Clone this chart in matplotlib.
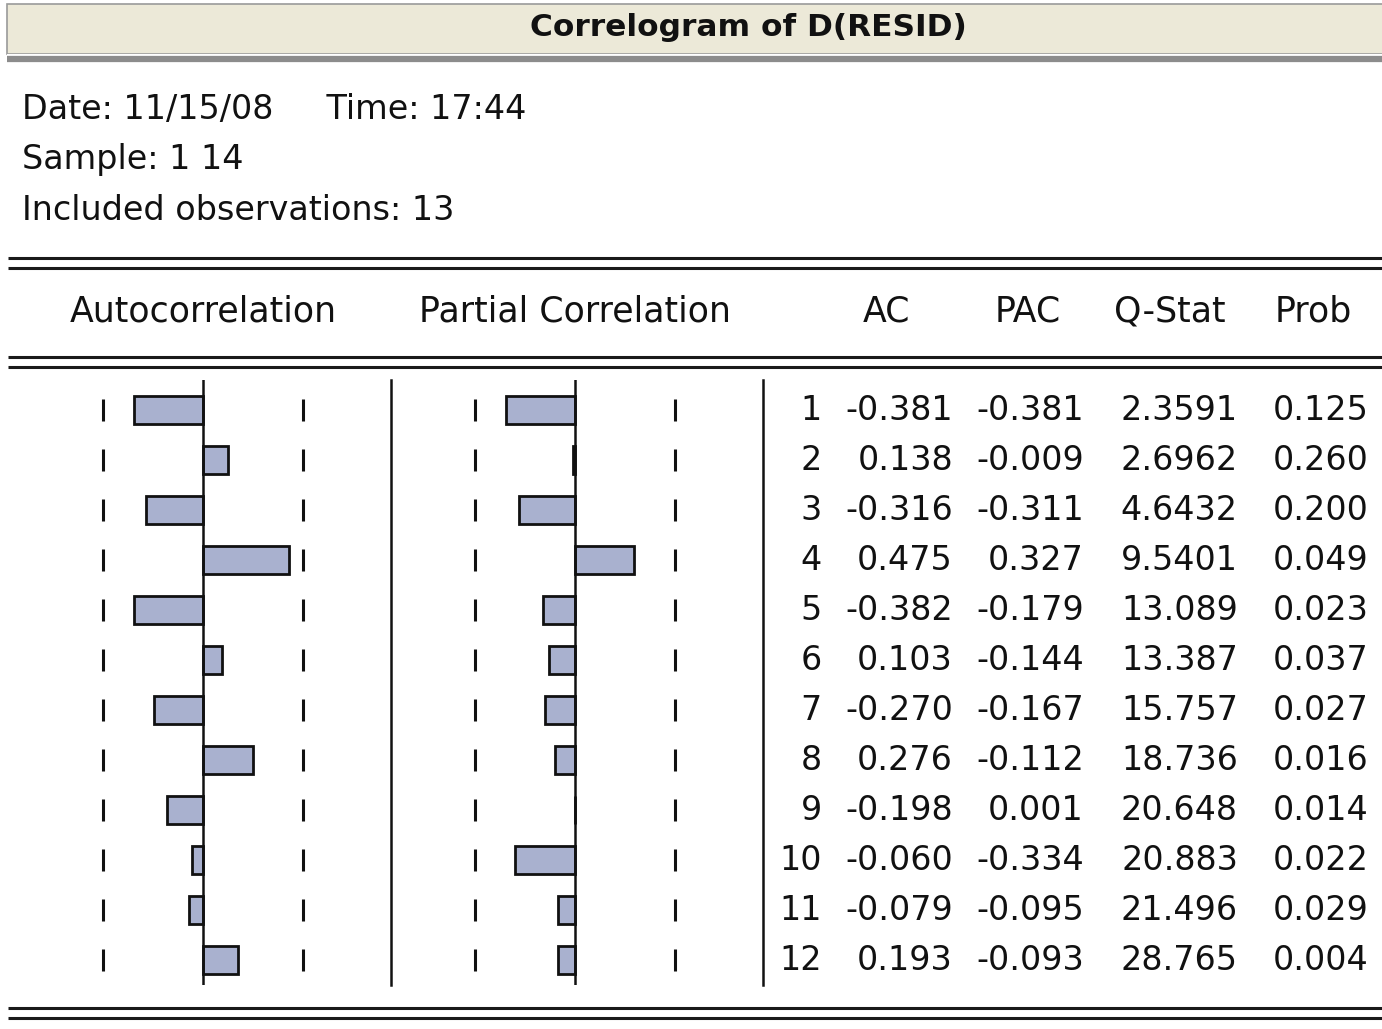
#!/usr/bin/env python
# coding:utf8
"""
EViews 风格的残差差分相关图 (correlogram)
"""
import numpy as np
import matplotlib
matplotlib.use('Agg')
import matplotlib.pyplot as plt
from matplotlib.patches import Rectangle

plt.rcParams['font.family'] = ['DejaVu Sans']

# 数据
n_obs = 13
lags = [1, 2, 3, 4, 5, 6, 7, 8, 9, 10, 11, 12]
ac = [-0.381, 0.138, -0.316, 0.475, -0.382, 0.103, -0.270, 0.276, -0.198, -0.060, -0.079, 0.193]
pac = [-0.381, -0.009, -0.311, 0.327, -0.179, -0.144, -0.167, -0.112, 0.001, -0.334, -0.095, -0.093]
q_stat = [2.3591, 2.6962, 4.6432, 9.5401, 13.089, 13.387, 15.757, 18.736, 20.648, 20.883, 21.496, 28.765]
prob = [0.125, 0.260, 0.200, 0.049, 0.023, 0.037, 0.027, 0.016, 0.014, 0.022, 0.029, 0.004]
q_labels = ['2.3591', '2.6962', '4.6432', '9.5401', '13.089', '13.387',
            '15.757', '18.736', '20.648', '20.883', '21.496', '28.765']

W, H = 1382, 1029
BAR_COLOR = '#A9B1CF'
FS = 24
INK = '#111111'

fig = plt.figure(figsize=(W / 100, H / 100), dpi=100)
fig.patch.set_facecolor('white')

# 整张图的底层坐标(像素)
ax = fig.add_axes([0, 0, 1, 1])
ax.set_xlim(0, W)
ax.set_ylim(H, 0)
ax.axis('off')

# 标题栏
ax.add_patch(Rectangle((7, 4), W, 50, facecolor='#ECE9D8', edgecolor='#9A9A9A', lw=1.2))
ax.plot([7, W], [55, 55], color='white', lw=1.5, solid_capstyle='butt')
ax.plot([7, W], [59, 59], color='#8C8C8C', lw=4.5, solid_capstyle='butt')
ax.text(748, 28, 'Correlogram of D(RESID)', ha='center', va='center',
        fontsize=22.5, fontweight='bold', color=INK)

# 头部信息
info_kw = dict(ha='left', va='center', fontsize=FS, color=INK)
ax.text(22, 110, 'Date: 11/15/08     Time: 17:44', **info_kw)
ax.text(22, 160, 'Sample: 1 14', **info_kw)
ax.text(22, 210, 'Included observations: %d' % n_obs, **info_kw)

# 双线
for y in (258, 268, 357, 367, 1008, 1018):
    ax.plot([8, W], [y, y], color='#1A1A1A', lw=2.2, solid_capstyle='butt')

# 表头
headers = [('Autocorrelation', 203), ('Partial Correlation', 575),
           ('AC', 886), ('PAC', 1028), ('Q-Stat', 1170), ('Prob', 1313)]
for name, x in headers:
    ax.text(x, 311, name, ha='center', va='center', fontsize=FS + 1, color=INK)

# 分隔竖线
for x in (391, 763):
    ax.plot([x, x], [380, 985], color=INK, lw=1.8)


def panel(center_px, values):
    """ 以相关系数为横轴画一个条形面板 """
    scale = 180.0  # 每单位相关系数的像素
    left = (center_px - scale) / W
    bottom = 1 - 985 / H
    a = fig.add_axes([left, bottom, 2 * scale / W, 605 / H])
    a.set_xlim(-1, 1)
    a.set_ylim(12.5, 0.4)
    a.axis('off')
    bound = 2 / np.sqrt(n_obs)
    a.barh(lags, values, height=0.56, color=BAR_COLOR, edgecolor=INK, lw=2.0)
    a.axvline(0, color=INK, lw=1.8)
    lag_arr = np.array(lags, dtype=float)
    for b in (-bound, bound):
        a.vlines([b] * len(lags), lag_arr - 0.22, lag_arr + 0.22, color=INK, lw=2.2)
    return a


panel(203, ac)
panel(575, pac)

# 数值列
num_kw = dict(ha='right', va='center', fontsize=FS, color=INK)
for i, lag in enumerate(lags):
    y = 410 + 50 * i
    ax.text(822, y, '%d' % lag, **num_kw)
    ax.text(953, y, '%.3f' % ac[i], **num_kw)
    ax.text(1084, y, '%.3f' % pac[i], **num_kw)
    ax.text(1238, y, q_labels[i], **num_kw)
    ax.text(1369, y, '%.3f' % prob[i], **num_kw)

plt.savefig('out.png', dpi=100)
